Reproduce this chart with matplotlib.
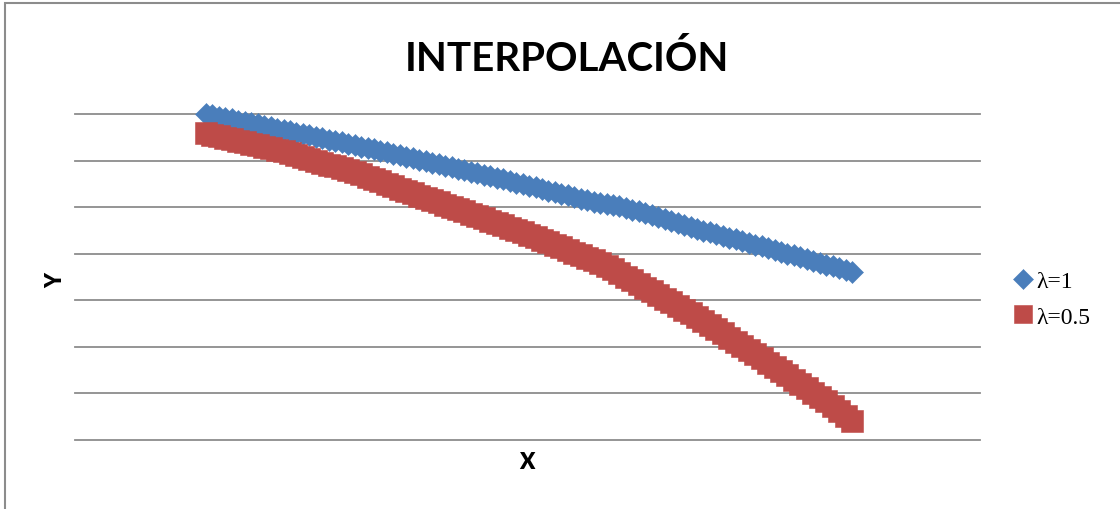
import matplotlib
matplotlib.use("Agg")
import matplotlib.pyplot as plt
from matplotlib.patches import Rectangle

# x nodes (evenly spaced, no tick labels shown in the chart)
x = [0.00, 0.01, 0.02, 0.03, 0.04, 0.05, 0.06, 0.07, 0.08, 0.09,
     0.10, 0.11, 0.12, 0.13, 0.14, 0.15, 0.16, 0.17, 0.18, 0.19,
     0.20, 0.21, 0.22, 0.23, 0.24, 0.25, 0.26, 0.27, 0.28, 0.29,
     0.30, 0.31, 0.32, 0.33, 0.34, 0.35, 0.36, 0.37, 0.38, 0.39,
     0.40, 0.41, 0.42, 0.43, 0.44, 0.45, 0.46, 0.47, 0.48, 0.49,
     0.50, 0.51, 0.52, 0.53, 0.54, 0.55, 0.56, 0.57, 0.58, 0.59,
     0.60, 0.61, 0.62, 0.63, 0.64, 0.65, 0.66, 0.67, 0.68, 0.69,
     0.70, 0.71, 0.72, 0.73, 0.74, 0.75, 0.76, 0.77, 0.78, 0.79,
     0.80, 0.81, 0.82, 0.83, 0.84, 0.85, 0.86, 0.87, 0.88, 0.89,
     0.90, 0.91, 0.92, 0.93, 0.94, 0.95, 0.96, 0.97, 0.98, 0.99,
     1.00]

# lambda = 1
y_l1 = [7.000, 6.972, 6.944, 6.917, 6.889, 6.860, 6.831, 6.803, 6.775, 6.746,
        6.717, 6.688, 6.659, 6.629, 6.599, 6.570, 6.541, 6.511, 6.481, 6.451,
        6.420, 6.390, 6.360, 6.329, 6.298, 6.268, 6.238, 6.207, 6.176, 6.144,
        6.111, 6.080, 6.049, 6.017, 5.985, 5.954, 5.922, 5.889, 5.856, 5.824,
        5.791, 5.759, 5.727, 5.694, 5.660, 5.627, 5.594, 5.560, 5.525, 5.492,
        5.458, 5.424, 5.390, 5.356, 5.321, 5.287, 5.252, 5.218, 5.184, 5.149,
        5.113, 5.088, 5.063, 5.039, 5.014, 4.979, 4.943, 4.907, 4.870, 4.828,
        4.786, 4.745, 4.703, 4.661, 4.619, 4.577, 4.535, 4.498, 4.460, 4.423,
        4.385, 4.348, 4.310, 4.272, 4.234, 4.196, 4.157, 4.119, 4.080, 4.042,
        4.003, 3.964, 3.925, 3.886, 3.846, 3.806, 3.766, 3.727, 3.687, 3.647,
        3.607]

# lambda = 0.5
y_l05 = [6.592, 6.559, 6.526, 6.492, 6.459, 6.427, 6.395, 6.362, 6.328, 6.295,
         6.262, 6.228, 6.195, 6.159, 6.122, 6.080, 6.038, 5.998, 5.957, 5.915,
         5.873, 5.832, 5.791, 5.747, 5.703, 5.653, 5.602, 5.551, 5.499, 5.449,
         5.398, 5.348, 5.297, 5.248, 5.199, 5.150, 5.100, 5.052, 5.003, 4.955,
         4.907, 4.859, 4.810, 4.760, 4.709, 4.659, 4.608, 4.558, 4.507, 4.457,
         4.406, 4.356, 4.305, 4.250, 4.194, 4.138, 4.082, 4.025, 3.968, 3.913,
         3.857, 3.800, 3.743, 3.665, 3.586, 3.506, 3.425, 3.347, 3.268, 3.190,
         3.111, 3.033, 2.955, 2.877, 2.798, 2.720, 2.641, 2.553, 2.465, 2.376,
         2.287, 2.199, 2.111, 2.023, 1.935, 1.846, 1.756, 1.664, 1.572, 1.480,
         1.387, 1.294, 1.200, 1.108, 1.016, 0.923, 0.829, 0.726, 0.623, 0.516,
         0.408]

labels = ["\u03bb=1", "\u03bb=0.5"]
grid_levels = [0, 1, 2, 3, 4, 5, 6, 7]

W, H = 1120, 510
fig = plt.figure(figsize=(W / 100, H / 100), dpi=100)
fig.patch.set_facecolor("white")

ax = fig.add_axes([75 / W, 1 - 441 / H, 905 / W, 326 / H])
ax.set_xlim(-0.2028, 1.198)
ax.set_ylim(0, 7)

for g in grid_levels:
    ax.axhline(g, color="#8c8c8c", lw=1.3, zorder=1, clip_on=False)

blue, = ax.plot(x, y_l1, linestyle="none", marker="D", ms=11.2,
                color="#4a7ebb", mec="#4a7ebb", mew=0.4, zorder=3,
                label=labels[0], clip_on=False)
red, = ax.plot(x, y_l05, linestyle="none", marker="s", ms=15.4,
               color="#be4b48", mec="#be4b48", mew=0.4, zorder=4,
               label=labels[1], clip_on=False)

for s in ax.spines.values():
    s.set_visible(False)
ax.set_xticks([])
ax.set_yticks([])

fig.text(567 / W, 1 - 71 / H, "INTERPOLACIÓN", family="Lato", weight="bold",
         fontsize=29, ha="center", va="baseline")
fig.text(527 / W, 1 - 463 / H, "X", family="Lato", weight="heavy",
         fontsize=16, ha="center", va="center")
fig.text(56 / W, 1 - 281 / H, "Y", family="Lato", weight="heavy",
         fontsize=16, ha="center", va="center", rotation=90)

fig.legend(handles=[blue, red], loc="center left",
           bbox_to_anchor=(1012 / W, 1 - 300 / H), frameon=False,
           prop={"family": "Liberation Serif", "size": 17},
           handlelength=0.9, handletextpad=0.15, labelspacing=0.6,
           borderpad=0, borderaxespad=0, markerscale=0.88)

fig.add_artist(Rectangle((5 / W, -0.1), 1.2, 1.1 - 4 / H, transform=fig.transFigure,
                         fill=False, edgecolor="#8c8c8c", lw=1.5))

fig.savefig("out.png", dpi=100)
